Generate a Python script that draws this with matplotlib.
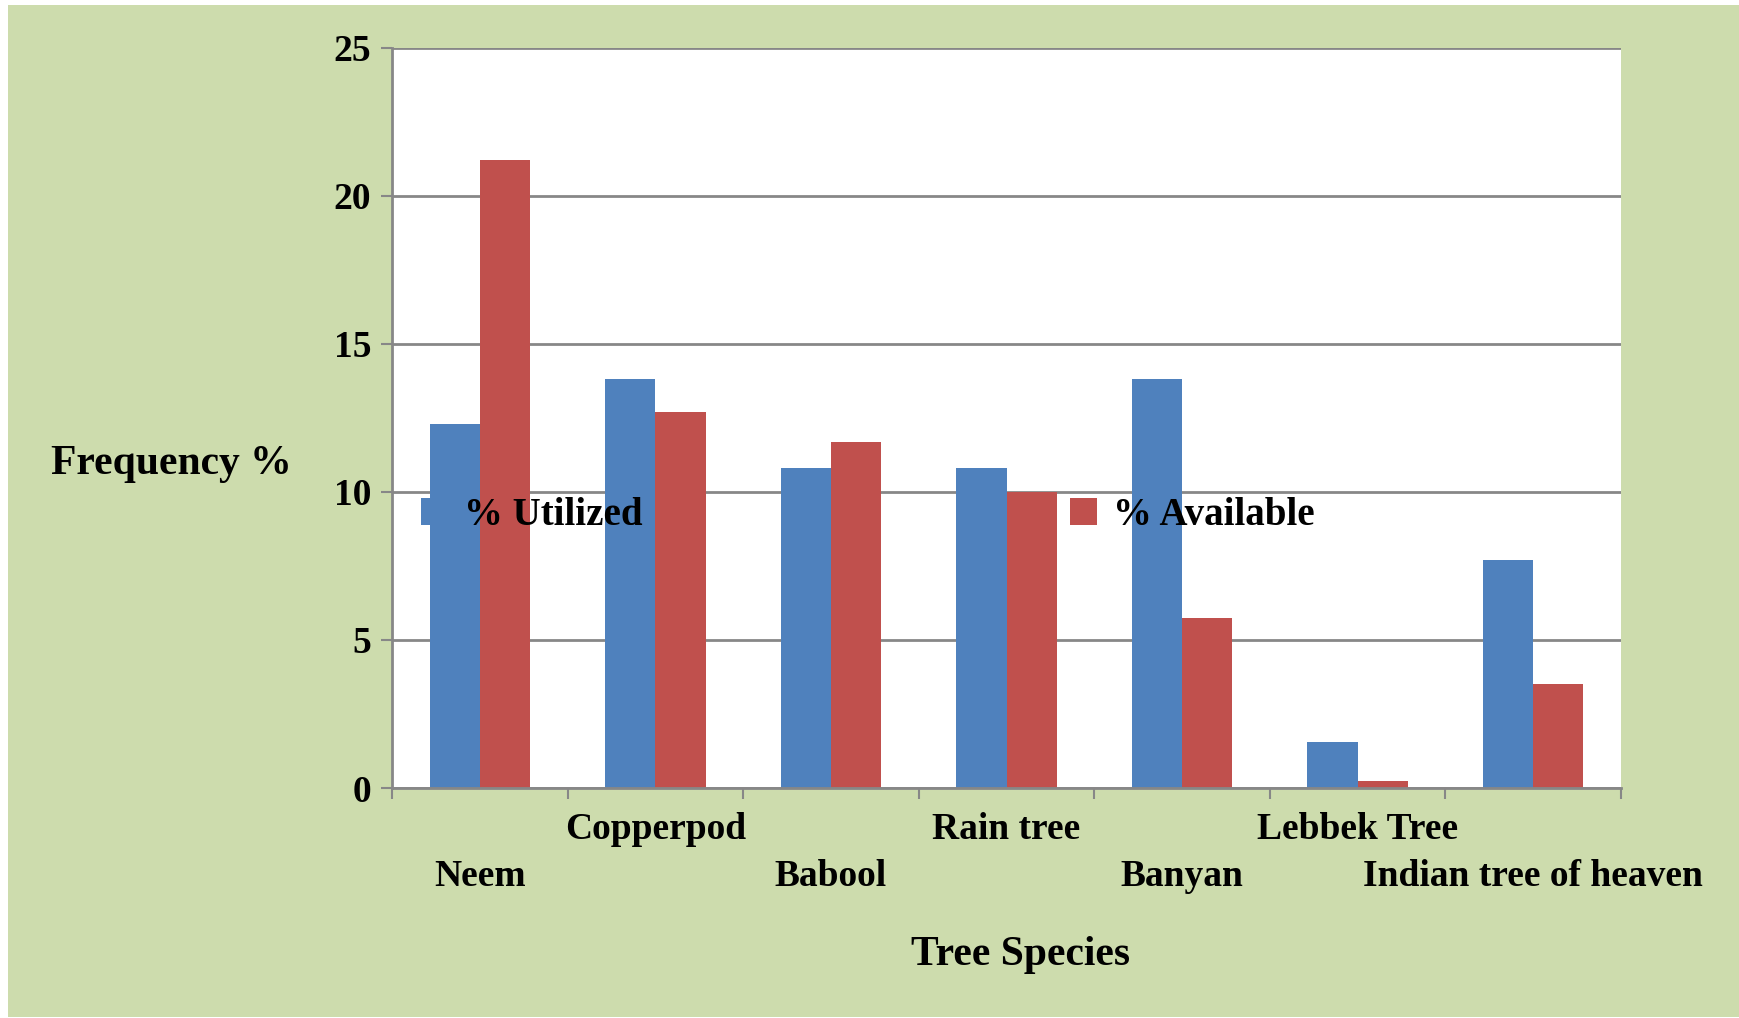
import numpy as np
import matplotlib
matplotlib.use("Agg")
from matplotlib import pyplot as plt
from matplotlib.patches import Rectangle

plt.rcParams['font.family'] = ['Liberation Serif', 'DejaVu Serif']
plt.rcParams['font.weight'] = 'bold'

species = ['Neem', 'Copperpod', 'Babool', 'Rain tree', 'Banyan',
           'Lebbek Tree', 'Indian tree of heaven']
utilized = [12.3, 13.8, 10.8, 10.8, 13.8, 1.55, 7.7]
available = [21.2, 12.7, 11.7, 10.0, 5.75, 0.25, 3.5]

blue = '#4F81BD'
red = '#C0504D'
grey = '#878787'

fig = plt.figure(figsize=(17.4, 10.18), dpi=100, facecolor='white')
# green chart area behind everything
fig.patches.append(Rectangle((8 / 1740, 1 / 1018), 1, 1012 / 1018,
                             transform=fig.transFigure, facecolor='#CDDCAD',
                             edgecolor='none', zorder=-10))

ax = fig.add_axes([0.2253, 0.2259, 0.9316 - 0.2253, 0.9531 - 0.2259])
ax.set_facecolor('white')

x = np.arange(len(species))
w = 1 / 3.5
ax.bar(x - w / 2, utilized, w, color=blue, label='% Utilized', zorder=2)
ax.bar(x + w / 2, available, w, color=red, label='% Available', zorder=2)

ax.set_xlim(-0.5, len(species) - 0.5)
ax.set_ylim(0, 25)
ax.set_yticks(range(0, 26, 5))
ax.yaxis.grid(True, color=grey, linewidth=2, zorder=1)
ax.set_axisbelow(True)

for s in ['top', 'right']:
    ax.spines[s].set_visible(False)
for s in ['left', 'bottom']:
    ax.spines[s].set_color(grey)
    ax.spines[s].set_linewidth(2)
    ax.spines[s].set_zorder(3)

ax.tick_params(axis='y', colors=grey, length=8, width=1.5, pad=7,
               labelsize=27, labelcolor='black')
for t in ax.get_yticklabels():
    t.set_fontweight('bold')

# ticks between categories, labels staggered on two rows
ax.set_xticks(np.arange(-0.5, len(species), 1))
ax.set_xticklabels([])
ax.tick_params(axis='x', colors=grey, length=8, width=1.5)
for i, s in enumerate(species):
    off = -64 if i % 2 == 0 else -30
    ax.annotate(s, xy=(i, 0), xycoords=('data', 'axes fraction'),
                xytext=(0, off), textcoords='offset points',
                ha='center', va='center', fontsize=27, fontweight='bold')

fig.text(1021 / 1740, 1 - 955 / 1018, 'Tree Species', fontsize=30,
         fontweight='bold', ha='center', va='center')
fig.text(171 / 1740, 1 - 464 / 1018, 'Frequency %', fontsize=30,
         fontweight='bold', ha='center', va='center')

leg = ax.legend(ncol=2, loc='center left', bbox_to_anchor=(-0.005, 0.3675),
                frameon=False, handlelength=0.7,
                handleheight=0.7, handletextpad=0.4, columnspacing=11.0,
                prop={'weight': 'bold', 'size': 28})
leg.set_zorder(5)

fig.savefig('out.png', dpi=100, facecolor=fig.get_facecolor())
